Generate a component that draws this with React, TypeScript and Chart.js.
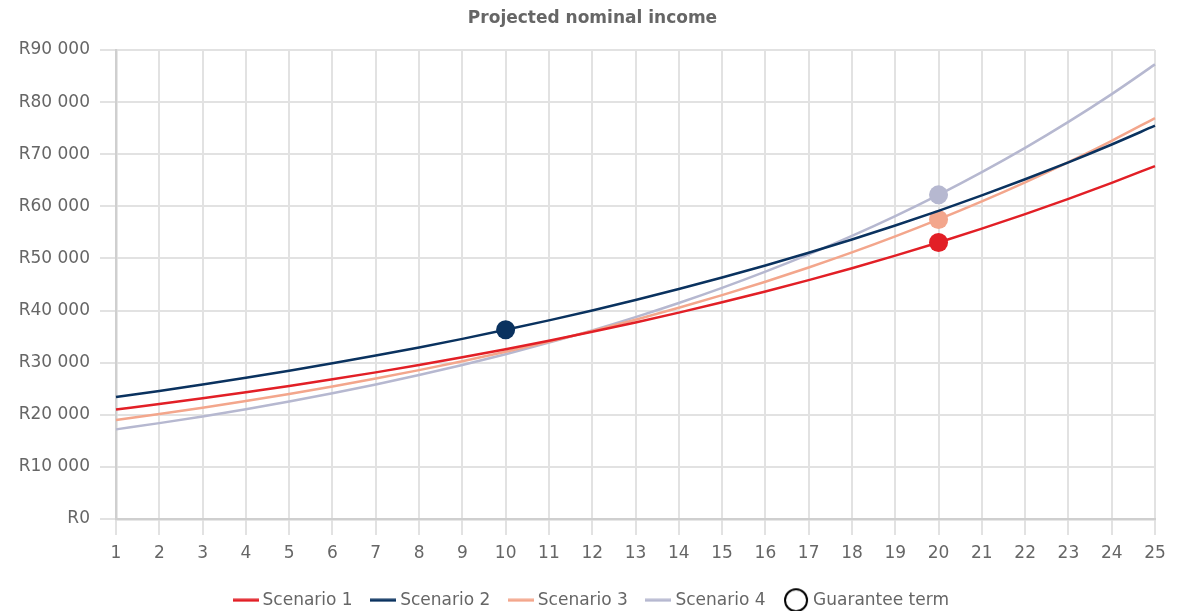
import { useEffect, useRef } from "react";
import { Chart, registerables } from "chart.js";

Chart.register(...registerables);

// Policy years on the horizontal axis
const years = [
  "1", "2", "3", "4", "5", "6", "7", "8", "9", "10", "11", "12", "13",
  "14", "15", "16", "17", "18", "19", "20", "21", "22", "23", "24", "25",
];

// Projected yearly income (Rand) per scenario
const scenario1 = [
  21000, 22050, 23150, 24310, 25530, 26800, 28140, 29550, 31030, 32580, 34210, 35920, 37710,
  39600, 41580, 43660, 45840, 48130, 50540, 53070, 55720, 58510, 61430, 64500, 67730,
];
const scenario2 = [
  23400, 24570, 25800, 27090, 28440, 29870, 31360, 32930, 34570, 36300, 38120, 40020, 42020,
  44120, 46330, 48650, 51080, 53630, 56310, 59130, 62090, 65190, 68450, 71870, 75470,
];
const scenario3 = [
  19000, 20140, 21350, 22630, 23990, 25430, 26950, 28570, 30280, 32100, 34030, 36070, 38230,
  40530, 42960, 45540, 48270, 51160, 54230, 57490, 60940, 64590, 68470, 72580, 76930,
];
const scenario4 = [
  17200, 18400, 19690, 21070, 22550, 24120, 25810, 27620, 29550, 31620, 33840, 36200, 38740,
  41450, 44350, 47460, 50780, 54330, 58130, 62200, 66560, 71220, 76200, 81540, 87240,
];

const seriesNames = ["Scenario 1", "Scenario 2", "Scenario 3", "Scenario 4"];
const seriesValues = [scenario1, scenario2, scenario3, scenario4];
const seriesColors = ["#e21f26", "#0a325f", "#f3a68c", "#b6b8d0"];
// Year in which each scenario's guarantee term ends
const guaranteeYears = ["20", "10", "20", "20"];
const guaranteeLabel = "Guarantee term";

const chartTitle = "Projected nominal income";
const yMin = 0;
const yMax = 90000;
const yStep = 10000;

const FONT = "'DejaVu Sans', sans-serif";
const TEXT_GREY = "#666666";

function formatRand(value: number): string {
  const digits = Math.round(Math.abs(value)).toString().replace(/\B(?=(\d{3})+(?!\d))/g, " ");
  return "R" + digits;
}

// Small legend swatches: a short line per scenario, an open ring for the guarantee marker
function lineSwatch(color: string): HTMLCanvasElement {
  const c = document.createElement("canvas");
  c.width = 26;
  c.height = 4;
  const ctx = c.getContext("2d")!;
  ctx.fillStyle = color;
  ctx.fillRect(0, 0.5, 26, 3);
  return c;
}

function ringSwatch(): HTMLCanvasElement {
  const c = document.createElement("canvas");
  c.width = 26;
  c.height = 26;
  const ctx = c.getContext("2d")!;
  ctx.strokeStyle = "#000000";
  ctx.lineWidth = 2;
  ctx.beginPath();
  ctx.arc(13, 13, 11, 0, Math.PI * 2);
  ctx.stroke();
  return c;
}

// Centres the title and legend row under the plot rather than under the whole canvas
const centreOnPlot = {
  id: "centreOnPlot",
  afterLayout(chart: any) {
    const legend = chart.legend;
    if (legend) {
      legend.left += 6;
      legend.right += 6;
    }
    const title = chart.titleBlock;
    if (title) {
      title.left += 5.5;
      title.right += 5.5;
    }
  },
};

export default function App() {
  const canvasRef = useRef<HTMLCanvasElement | null>(null);

  useEffect(() => {
    document.body.style.margin = "0";
    const canvas = canvasRef.current;
    if (!canvas) return;

    const lineSwatches = seriesColors.map(lineSwatch);
    const ring = ringSwatch();

    const datasets = seriesNames.map((name, i) => ({
      label: name,
      data: seriesValues[i],
      borderColor: seriesColors[i],
      backgroundColor: seriesColors[i],
      borderWidth: 2.5,
      fill: false,
      cubicInterpolationMode: "monotone" as const,
      pointRadius: years.map((y) => (y === guaranteeYears[i] ? 9.5 : 0)),
      pointHoverRadius: years.map((y) => (y === guaranteeYears[i] ? 9.5 : 0)),
      pointBorderWidth: 0,
      pointBackgroundColor: seriesColors[i],
    }));

    const chart = new Chart(canvas, {
      type: "line",
      data: { labels: years, datasets },
      plugins: [centreOnPlot],
      options: {
        animation: false,
        responsive: false,
        maintainAspectRatio: false,
        events: [],
        layout: { padding: { left: 19, right: 22, top: 0, bottom: 0 } },
        plugins: {
          tooltip: { enabled: false },
          title: {
            display: true,
            text: chartTitle,
            color: TEXT_GREY,
            font: { family: FONT, size: 17, weight: "bold" },
            padding: { top: 8, bottom: 21.6 },
          },
          legend: {
            position: "bottom",
            maxHeight: 41.3,
            labels: {
              usePointStyle: true,
              color: TEXT_GREY,
              padding: 22,
              font: { family: FONT, size: 17 },
              generateLabels: () => [
                ...seriesNames.map((name, i) => ({
                  text: name,
                  fillStyle: seriesColors[i],
                  strokeStyle: seriesColors[i],
                  lineWidth: 0,
                  pointStyle: lineSwatches[i],
                  hidden: false,
                  datasetIndex: i,
                  fontColor: TEXT_GREY,
                })),
                {
                  text: guaranteeLabel,
                  fillStyle: "rgba(0,0,0,0)",
                  strokeStyle: "#000000",
                  lineWidth: 0,
                  pointStyle: ring,
                  hidden: false,
                  fontColor: TEXT_GREY,
                },
              ],
            },
          },
        },
        scales: {
          x: {
            type: "category",
            offset: false,
            grid: {
              color: "#e2e2e2",
              lineWidth: 2,
              tickLength: 16,
            },
            border: { color: "#cfcfcf", width: 2.5 },
            ticks: {
              color: TEXT_GREY,
              padding: 8.5,
              maxRotation: 0,
              autoSkip: false,
              font: { family: FONT, size: 17 },
            },
            afterFit: (scale: any) => {
              scale.height = 50.7;
            },
          },
          y: {
            min: yMin,
            max: yMax,
            grid: {
              color: "#e2e2e2",
              lineWidth: 2,
              tickLength: 16,
            },
            border: { color: "#cfcfcf", width: 2.5 },
            ticks: {
              stepSize: yStep,
              color: TEXT_GREY,
              padding: 10,
              font: { family: FONT, size: 17 },
              callback: (v: any) => formatRand(Number(v)),
            },
            afterFit: (scale: any) => {
              scale.width = 97;
            },
          },
        },
      },
    });

    return () => chart.destroy();
  }, []);

  return (
    <div style={{ width: 1177, height: 611 }}>
      <canvas ref={canvasRef} width={1177} height={611} style={{ display: "block" }} />
    </div>
  );
}
